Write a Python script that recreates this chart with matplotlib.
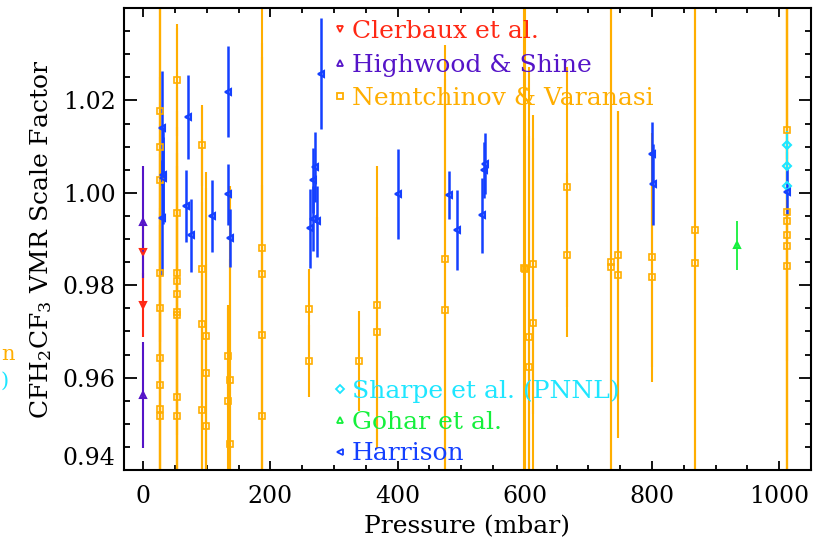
import matplotlib
matplotlib.use("Agg")
import matplotlib.pyplot as plt
from matplotlib.lines import Line2D
from matplotlib.ticker import MultipleLocator

plt.rcParams['font.family'] = ['DejaVu Serif']
plt.rcParams['mathtext.fontset'] = 'dejavuserif'

# colours of the six sources
c_cler = '#ff2814'
c_high = '#5514c8'
c_nem = '#ffae00'
c_sharpe = '#1ee6ff'
c_gohar = '#14f03c'
c_harr = '#1440ff'

# Clerbaux et al.
cler_p = [0, 0]
cler_v = [0.9872, 0.9757]
cler_e = [0.006, 0.0069]

# Highwood & Shine
high_p = [0, 0]
high_v = [0.9937, 0.9562]
high_e = [0.0122, 0.0114]

# Nemtchinov & Varanasi
nem_p = [26, 26, 26, 26, 26, 26, 26, 26, 26,
         53, 53, 53, 53, 53, 53, 53, 53, 53,
         92.5, 92.5, 92.5, 92.5,
         99.5, 99.5, 99.5,
         133, 133, 136, 136,
         187, 187, 187, 187,
         261, 261, 340, 368, 368,
         474, 474, 599, 601, 606, 606, 613, 613,
         666, 666, 735, 735, 746.5, 746.5, 800, 800,
         868, 868,
         1013, 1013, 1013, 1013, 1013, 1013]
nem_v = [1.0178, 1.0099, 1.0027, 0.9826, 0.9751, 0.9643, 0.9585, 0.9531, 0.9517,
         1.0245, 0.9957, 0.9826, 0.9810, 0.9780, 0.9743, 0.9736, 0.9557, 0.9516,
         1.0103, 0.9836, 0.9716, 0.9530,
         0.9690, 0.9610, 0.9496,
         0.9647, 0.9550, 0.9595, 0.9456,
         0.9881, 0.9825, 0.9693, 0.9517,
         0.9748, 0.9636, 0.9636, 0.9757, 0.9698,
         0.9856, 0.9747, 0.9838, 0.9836, 0.9687, 0.9622, 0.9845, 0.9718,
         1.0013, 0.9865, 0.9850, 0.9840, 0.9866, 0.9823, 0.9860, 0.9818,
         0.9920, 0.9847,
         1.0135, 0.9958, 0.9939, 0.9908, 0.9884, 0.9841]
nem_e = [0.050, 0.045, 0.040, 0.060, 0.050, 0.045, 0.050, 0.040, 0.045,
         0.0121, 0.040, 0.035, 0.030, 0.045, 0.040, 0.035, 0.050, 0.045,
         0.0088, 0.035, 0.040, 0.045,
         0.0355, 0.040, 0.035,
         0.011, 0.020, 0.042, 0.040,
         0.060, 0.050, 0.060, 0.050,
         0.0088, 0.0078, 0.0108, 0.0302, 0.025,
         0.0463, 0.050, 0.070, 0.065, 0.0585, 0.050, 0.0323, 0.040,
         0.026, 0.0177, 0.070, 0.065, 0.0312, 0.0354, 0.027, 0.0195,
         0.070, 0.060,
         0.050, 0.060, 0.050, 0.055, 0.060, 0.065]

# Sharpe et al. (PNNL)
sharpe_p = [1013, 1013, 1013]
sharpe_v = [1.0103, 1.0058, 1.0014]
sharpe_e = [0.003, 0.003, 0.003]

# Gohar et al.
gohar_p = [933]
gohar_v = [0.9886]
gohar_e = [0.0053]

# Harrison
harr_p = [29, 31, 32, 30, 71, 67, 75, 109, 134, 133, 137,
          270, 267.5, 266.5, 262, 274, 279.6, 401, 480.6, 494,
          538, 536, 533, 800, 801, 1013]
harr_v = [1.0140, 1.0038, 1.0031, 0.9946, 1.0165, 0.9972, 0.9908, 0.9949, 1.0219, 0.9997, 0.9903,
          1.0056, 1.0027, 0.9944, 0.9923, 0.9938, 1.0258, 0.9998, 0.9995, 0.9919,
          1.0063, 1.0049, 0.9951, 1.0085, 1.0018, 1.0002]
harr_e = [0.0123, 0.0105, 0.009, 0.0124, 0.0091, 0.0078, 0.0079, 0.0078, 0.0098, 0.0066, 0.0063,
          0.0075, 0.007, 0.007, 0.0086, 0.0076, 0.012, 0.0097, 0.0052, 0.0087,
          0.0066, 0.006, 0.0082, 0.0068, 0.0088, 0.005]

x_ticks = [0, 200, 400, 600, 800, 1000]
y_ticks = [0.94, 0.96, 0.98, 1.00, 1.02]
y_ticklabels = ['0.94', '0.96', '0.98', '1.00', '1.02']

fig = plt.figure(figsize=(8.18, 5.45), dpi=100)
ax = fig.add_axes([124 / 818, 1 - 470 / 545, 687 / 818, 462 / 545])

ax.errorbar(nem_p, nem_v, yerr=nem_e, fmt='s', color=c_nem, ms=4, mfc='none',
            mew=1.2, elinewidth=1.5, capsize=0)
ax.errorbar(cler_p, cler_v, yerr=cler_e, fmt='v', color=c_cler, ms=5, mfc='none',
            mew=1.5, elinewidth=1.5, capsize=0)
ax.errorbar(high_p, high_v, yerr=high_e, fmt='^', color=c_high, ms=5, mfc='none',
            mew=1.5, elinewidth=1.5, capsize=0)
ax.errorbar(sharpe_p, sharpe_v, yerr=sharpe_e, fmt='D', color=c_sharpe, ms=4, mfc='none',
            mew=1.5, elinewidth=1.5, capsize=0)
ax.errorbar(gohar_p, gohar_v, yerr=gohar_e, fmt='^', color=c_gohar, ms=5, mfc='none',
            mew=1.5, elinewidth=1.3, capsize=0)
ax.errorbar(harr_p, harr_v, yerr=harr_e, fmt='<', color=c_harr, ms=5, mfc='none',
            mew=1.5, elinewidth=1.8, capsize=0)

ax.set_xlim(-30, 1050)
ax.set_ylim(0.94, 1.04)
ax.set_xticks(x_ticks)
ax.xaxis.set_minor_locator(MultipleLocator(50))
ax.set_yticks(y_ticks)
ax.yaxis.set_minor_locator(MultipleLocator(0.005))
ax.set_yticklabels(y_ticklabels)

ax.tick_params(which='both', direction='in', top=True, right=True, width=1.3,
               labelsize=17)
ax.tick_params(axis='x', which='major', length=6.5, pad=11)
ax.tick_params(axis='x', which='minor', length=3.6)
ax.tick_params(axis='y', which='major', length=9, pad=6)
ax.tick_params(axis='y', which='minor', length=4.3)
for s in ax.spines.values():
    s.set_linewidth(1.5)
# IDL lifts the lowest y label so that it sits above the x axis
ax.get_yticklabels()[0].set_verticalalignment('bottom')

ax.set_xlabel('Pressure (mbar)', fontsize=18, labelpad=5)
ax.set_ylabel('CFH$_2$CF$_3$ VMR Scale Factor', fontsize=18, labelpad=6)

def handle(m, c):
    return Line2D([], [], linestyle='none', marker=m, color=c, ms=4,
                  mfc='none', mew=1.3)

leg1 = ax.legend([handle('v', c_cler), handle('^', c_high), handle('s', c_nem)],
                 ['Clerbaux et al.', 'Highwood & Shine', 'Nemtchinov & Varanasi'],
                 loc='upper left', bbox_to_anchor=(0.306, 0.974), frameon=False,
                 fontsize=18, handlelength=0.44, handletextpad=0.26,
                 borderpad=0, borderaxespad=0, labelspacing=0.42,
                 labelcolor=[c_cler, c_high, c_nem])
ax.add_artist(leg1)
ax.legend([handle('D', c_sharpe), handle('^', c_gohar), handle('<', c_harr)],
          ['Sharpe et al. (PNNL)', 'Gohar et al.', 'Harrison'],
          loc='lower left', bbox_to_anchor=(0.306, 0.01), frameon=False,
          fontsize=18, handlelength=0.44, handletextpad=0.26,
          borderpad=0, borderaxespad=0, labelspacing=0.33,
          labelcolor=[c_sharpe, c_gohar, c_harr])

# bits of text at the left edge of the picture
fig.text(0.001, 1 - 355 / 545, 'n', color=c_nem, fontsize=15, va='center')
fig.text(0.001, 1 - 381 / 545, ')', color=c_sharpe, fontsize=15, va='center')

fig.savefig('out.png', dpi=100)
